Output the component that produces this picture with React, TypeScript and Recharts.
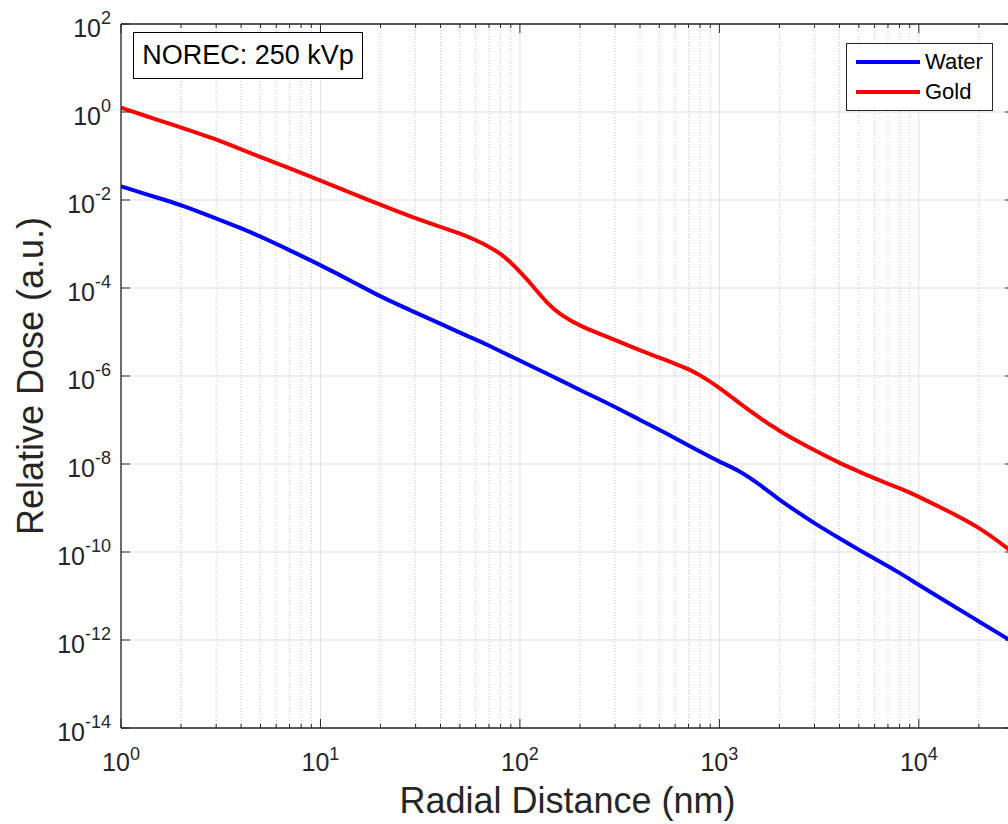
import React from 'react';
import {
  LineChart,
  Line,
  XAxis,
  YAxis,
  CartesianGrid,
  ReferenceLine,
  Legend,
  Label,
} from 'recharts';

// Radial distance (nm)
const radialDistance = [
  1, 1.5, 2, 3, 4, 5, 7, 10, 15, 20, 30, 40, 50, 60, 70, 80, 90, 100, 117, 137, 160, 200, 300, 400,
  500, 600, 700, 800, 1000, 1260, 1600, 2000, 2500, 3000, 4000, 5000, 6000, 8000, 10000, 13000, 20000,
  30000,
];
// log10 of relative dose
const waterLogDose = [
  -1.69, -1.94, -2.11, -2.42, -2.64, -2.83, -3.14, -3.48, -3.89, -4.2, -4.56, -4.81, -5.02, -5.17,
  -5.31, -5.44, -5.55, -5.65, -5.8, -5.95, -6.1, -6.32, -6.7, -7.0, -7.22, -7.41, -7.58, -7.72, -7.95,
  -8.15, -8.47, -8.82, -9.11, -9.35, -9.69, -9.95, -10.15, -10.47, -10.75, -11.06, -11.58, -12.06,
];
const goldLogDose = [
  0.1, -0.17, -0.35, -0.62, -0.85, -1.02, -1.28, -1.56, -1.88, -2.11, -2.42, -2.61, -2.76, -2.91,
  -3.06, -3.22, -3.42, -3.63, -3.97, -4.35, -4.61, -4.87, -5.18, -5.42, -5.58, -5.72, -5.84, -5.98,
  -6.26, -6.62, -6.96, -7.25, -7.5, -7.69, -7.98, -8.17, -8.33, -8.55, -8.74, -9.0, -9.42, -10.03,
];

const xMajorTicks = [1, 10, 100, 1000, 10000];
const xMinorTicks = [
  2, 3, 4, 5, 6, 7, 8, 9, 20, 30, 40, 50, 60, 70, 80, 90, 200, 300, 400, 500, 600, 700, 800, 900,
  2000, 3000, 4000, 5000, 6000, 7000, 8000, 9000, 20000, 30000,
];
const yTicks = [1e-14, 1e-12, 1e-10, 1e-8, 1e-6, 1e-4, 1e-2, 1e0, 1e2];
const xDomain = [1, 30000];
const yDomain = [1e-14, 1e2];

const seriesNames = { water: 'Water', gold: 'Gold' };
const annotationText = 'NOREC: 250 kVp';
const xLabel = 'Radial Distance (nm)';
const yLabel = 'Relative Dose (a.u.)';

const data = radialDistance.map((r, i) => ({
  r,
  water: Math.pow(10, waterLogDose[i]),
  gold: Math.pow(10, goldLogDose[i]),
}));

// layout
const CHART_W = 1020;
const CHART_H = 816;
const PL = 113;
const PT = 16;
const PR = 1006;
const PB = 720;
const FONT = '"Liberation Sans", Arial, Helvetica, sans-serif';
const AXIS_COLOR = '#262626';

const XTick = (props: any) => {
  const { x, payload } = props;
  const v = payload.value as number;
  const lg = Math.log10(v);
  const exp = Math.round(lg);
  const major = Math.abs(lg - exp) < 1e-6;
  const len = major ? 9 : 4;
  return (
    <g>
      <line x1={x} x2={x} y1={PB} y2={PB - len} stroke={AXIS_COLOR} strokeWidth={1} />
      <line x1={x} x2={x} y1={PT} y2={PT + len} stroke={AXIS_COLOR} strokeWidth={1} />
      {major && (
        <text x={x} y={PB + 43} textAnchor="middle" fill={AXIS_COLOR} fontFamily={FONT} fontSize={25}>
          <tspan>10</tspan>
          <tspan fontSize={18} dy={-11}>
            {String(exp)}
          </tspan>
        </text>
      )}
    </g>
  );
};

const YTick = (props: any) => {
  const { y, payload } = props;
  const v = payload.value as number;
  const exp = Math.round(Math.log10(v));
  return (
    <g>
      <line x1={PL} x2={PL + 9} y1={y} y2={y} stroke={AXIS_COLOR} strokeWidth={1} />
      <line x1={PR} x2={PR - 9} y1={y} y2={y} stroke={AXIS_COLOR} strokeWidth={1} />
      <text x={PL - 10} y={y + 13} textAnchor="end" fill={AXIS_COLOR} fontFamily={FONT} fontSize={25}>
        <tspan>10</tspan>
        <tspan fontSize={18} dy={-13}>
          {String(exp)}
        </tspan>
      </text>
    </g>
  );
};

const LegendBox = () => (
  <div
    style={{
      width: 147,
      height: 68,
      boxSizing: 'border-box',
      border: `1.5px solid ${AXIS_COLOR}`,
      background: '#fff',
      position: 'relative',
      fontFamily: FONT,
      fontSize: 22,
      color: '#000',
    }}
  >
    {[
      { name: seriesNames.water, color: '#0000ff', top: 18 },
      { name: seriesNames.gold, color: '#ff0000', top: 48 },
    ].map((it) => (
      <div key={it.name}>
        <div
          style={{
            position: 'absolute',
            left: 9,
            top: it.top - 2,
            width: 64,
            height: 4,
            background: it.color,
          }}
        />
        <div style={{ position: 'absolute', left: 78, top: it.top - 14, lineHeight: '28px' }}>{it.name}</div>
      </div>
    ))}
  </div>
);

export default function App() {
  return (
    <div
      style={{
        position: 'fixed',
        left: 8,
        top: 8,
        width: 1000,
        height: CHART_H,
        overflow: 'hidden',
        background: '#fff',
      }}
    >
      <LineChart
        width={CHART_W}
        height={CHART_H}
        data={data}
        margin={{ top: PT, right: CHART_W - PR, bottom: 0, left: 0 }}
      >
        <CartesianGrid
          stroke="#dfdfdf"
          strokeWidth={1}
          horizontalValues={yTicks}
          verticalValues={xMajorTicks}
        />
        <CartesianGrid
          stroke="#c4c4c4"
          strokeWidth={1}
          strokeDasharray="1 2"
          horizontal={false}
          verticalValues={xMinorTicks}
        />
        <XAxis
          dataKey="r"
          type="number"
          scale="log"
          domain={xDomain}
          allowDataOverflow
          ticks={[...xMajorTicks, ...xMinorTicks]}
          interval={0}
          tick={<XTick />}
          tickLine={false}
          tickSize={0}
          tickMargin={0}
          height={CHART_H - PB}
          axisLine={{ stroke: AXIS_COLOR, strokeWidth: 1.3 }}
        >
          <Label
            content={() => (
              <text
                x={(PL + PR) / 2}
                y={805}
                textAnchor="middle"
                fill={AXIS_COLOR}
                fontFamily={FONT}
                fontSize={36}
              >
                {xLabel}
              </text>
            )}
          />
        </XAxis>
        <YAxis
          type="number"
          scale="log"
          domain={yDomain}
          allowDataOverflow
          ticks={yTicks}
          interval={0}
          tick={<YTick />}
          tickLine={false}
          tickSize={0}
          tickMargin={10}
          width={PL}
          axisLine={{ stroke: AXIS_COLOR, strokeWidth: 1.3 }}
        >
          <Label
            content={() => (
              <text
                x={22}
                y={(PT + PB) / 2}
                transform={`rotate(-90, 22, ${(PT + PB) / 2})`}
                textAnchor="middle"
                dominantBaseline="central"
                fill={AXIS_COLOR}
                fontFamily={FONT}
                fontSize={36}
              >
                {yLabel}
              </text>
            )}
          />
        </YAxis>
        <ReferenceLine y={1e2} stroke={AXIS_COLOR} strokeWidth={1.3} />
        <ReferenceLine x={30000} stroke={AXIS_COLOR} strokeWidth={1.3} />
        <Line
          dataKey="water"
          name={seriesNames.water}
          type="basis"
          stroke="#0000ff"
          strokeWidth={4}
          dot={false}
          isAnimationActive={false}
        />
        <Line
          dataKey="gold"
          name={seriesNames.gold}
          type="basis"
          stroke="#ff0000"
          strokeWidth={4}
          dot={false}
          isAnimationActive={false}
        />
        <Legend
          layout="vertical"
          align="center"
          verticalAlign="middle"
          content={<LegendBox />}
          wrapperStyle={{ position: 'absolute', top: 35, left: 838, width: 147, height: 68 }}
        />
      </LineChart>
      <div
        style={{
          position: 'absolute',
          left: 125,
          top: 24,
          width: 230,
          height: 47,
          boxSizing: 'border-box',
          border: '1.5px solid #000',
          background: '#fff',
          fontFamily: FONT,
          fontSize: 27,
          lineHeight: '44px',
          textAlign: 'center',
          color: '#000',
          whiteSpace: 'nowrap',
        }}
      >
        {annotationText}
      </div>
    </div>
  );
}
